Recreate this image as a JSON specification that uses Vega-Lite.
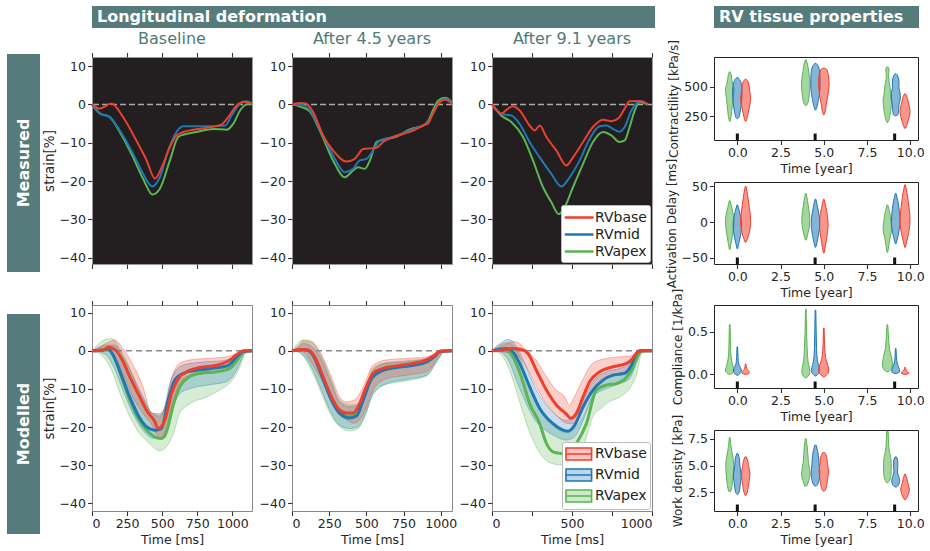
{
"$schema":"https://vega.github.io/schema/vega-lite/v6.json",
"background":"white",
"padding":{"left":7,"top":6,"right":2,"bottom":2},
"columns":9,
"align":"none",
"bounds":"flush",
"center":false,
"spacing":{"row":0,"column":0},
"resolve":{"scale":{"color":"independent","fill":"independent","stroke":"independent"},"legend":{"color":"independent","fill":"independent","stroke":"independent"}},
"config":{
 "view":{"stroke":null},
 "font":"DejaVu Sans",
 "axis":{"labelFont":"DejaVu Sans","titleFont":"DejaVu Sans","labelFontSize":12.5,"titleFontSize":12.5,"labelColor":"#262626","titleColor":"#262626","tickColor":"#333333","tickSize":4.5,"tickWidth":1.1,"domain":false,"grid":false,"titleFontWeight":"normal","labelPadding":2,"titlePadding":3},
 "title":{"font":"DejaVu Sans","fontSize":16,"fontWeight":"normal","color":"#4f7a7a"},
 "legend":{"labelFont":"DejaVu Sans","labelFontSize":14,"labelColor":"#222222","titleFont":"DejaVu Sans"}
},
"datasets":{
"meas":[
{"p":"M1","r":"RVapex","t":0,"v":0},{"p":"M1","r":"RVapex","t":55,"v":-2.3},{"p":"M1","r":"RVapex","t":126,"v":-3.3},{"p":"M1","r":"RVapex","t":198,"v":-7.2},{"p":"M1","r":"RVapex","t":293,"v":-13.8},{"p":"M1","r":"RVapex","t":364,"v":-19.4},{"p":"M1","r":"RVapex","t":431,"v":-23.5},{"p":"M1","r":"RVapex","t":483,"v":-22},{"p":"M1","r":"RVapex","t":555,"v":-14.6},{"p":"M1","r":"RVapex","t":614,"v":-8.5},{"p":"M1","r":"RVapex","t":650,"v":-7.9},{"p":"M1","r":"RVapex","t":745,"v":-7.2},{"p":"M1","r":"RVapex","t":864,"v":-6.4},{"p":"M1","r":"RVapex","t":960,"v":-6.6},{"p":"M1","r":"RVapex","t":1007,"v":-5},{"p":"M1","r":"RVapex","t":1055,"v":-1.6},{"p":"M1","r":"RVapex","t":1102,"v":0},{"p":"M1","r":"RVapex","t":1138,"v":0.2},
{"p":"M1","r":"RVmid","t":0,"v":0},{"p":"M1","r":"RVmid","t":55,"v":-2.4},{"p":"M1","r":"RVmid","t":126,"v":-3.3},{"p":"M1","r":"RVmid","t":198,"v":-6.8},{"p":"M1","r":"RVmid","t":293,"v":-12.9},{"p":"M1","r":"RVmid","t":364,"v":-18.1},{"p":"M1","r":"RVmid","t":431,"v":-21.4},{"p":"M1","r":"RVmid","t":483,"v":-19},{"p":"M1","r":"RVmid","t":543,"v":-12},{"p":"M1","r":"RVmid","t":602,"v":-7.2},{"p":"M1","r":"RVmid","t":650,"v":-5.7},{"p":"M1","r":"RVmid","t":745,"v":-5.7},{"p":"M1","r":"RVmid","t":864,"v":-5.7},{"p":"M1","r":"RVmid","t":948,"v":-5.5},{"p":"M1","r":"RVmid","t":995,"v":-2.9},{"p":"M1","r":"RVmid","t":1055,"v":0.2},{"p":"M1","r":"RVmid","t":1102,"v":0.8},{"p":"M1","r":"RVmid","t":1138,"v":0.3},
{"p":"M1","r":"RVbase","t":0,"v":0},{"p":"M1","r":"RVbase","t":55,"v":-1.1},{"p":"M1","r":"RVbase","t":138,"v":0.2},{"p":"M1","r":"RVbase","t":221,"v":-3.3},{"p":"M1","r":"RVbase","t":317,"v":-9.5},{"p":"M1","r":"RVbase","t":388,"v":-14.5},{"p":"M1","r":"RVbase","t":448,"v":-19.3},{"p":"M1","r":"RVbase","t":507,"v":-15.5},{"p":"M1","r":"RVbase","t":555,"v":-11.1},{"p":"M1","r":"RVbase","t":602,"v":-8.1},{"p":"M1","r":"RVbase","t":650,"v":-7.2},{"p":"M1","r":"RVbase","t":721,"v":-6.6},{"p":"M1","r":"RVbase","t":817,"v":-6.1},{"p":"M1","r":"RVbase","t":924,"v":-5.2},{"p":"M1","r":"RVbase","t":971,"v":-3.3},{"p":"M1","r":"RVbase","t":1031,"v":-0.3},{"p":"M1","r":"RVbase","t":1079,"v":0.6},{"p":"M1","r":"RVbase","t":1126,"v":0.4},{"p":"M1","r":"RVbase","t":1140,"v":0},
{"p":"M2","r":"RVapex","t":0,"v":0},{"p":"M2","r":"RVapex","t":63,"v":-0.7},{"p":"M2","r":"RVapex","t":119,"v":-1.8},{"p":"M2","r":"RVapex","t":187,"v":-6.8},{"p":"M2","r":"RVapex","t":276,"v":-14.6},{"p":"M2","r":"RVapex","t":355,"v":-19},{"p":"M2","r":"RVapex","t":411,"v":-17.2},{"p":"M2","r":"RVapex","t":445,"v":-16.4},{"p":"M2","r":"RVapex","t":490,"v":-16.8},{"p":"M2","r":"RVapex","t":524,"v":-14.6},{"p":"M2","r":"RVapex","t":569,"v":-9.8},{"p":"M2","r":"RVapex","t":613,"v":-9.2},{"p":"M2","r":"RVapex","t":703,"v":-8.4},{"p":"M2","r":"RVapex","t":793,"v":-6.5},{"p":"M2","r":"RVapex","t":883,"v":-5.5},{"p":"M2","r":"RVapex","t":917,"v":-4.2},{"p":"M2","r":"RVapex","t":950,"v":-1.4},{"p":"M2","r":"RVapex","t":984,"v":1},{"p":"M2","r":"RVapex","t":1029,"v":1.7},{"p":"M2","r":"RVapex","t":1063,"v":1},{"p":"M2","r":"RVapex","t":1076,"v":0.3},
{"p":"M2","r":"RVmid","t":0,"v":0},{"p":"M2","r":"RVmid","t":63,"v":-0.1},{"p":"M2","r":"RVmid","t":119,"v":-1.4},{"p":"M2","r":"RVmid","t":187,"v":-6.4},{"p":"M2","r":"RVmid","t":276,"v":-13.3},{"p":"M2","r":"RVmid","t":355,"v":-17.7},{"p":"M2","r":"RVmid","t":411,"v":-16.8},{"p":"M2","r":"RVmid","t":456,"v":-14.6},{"p":"M2","r":"RVmid","t":501,"v":-14.2},{"p":"M2","r":"RVmid","t":546,"v":-12},{"p":"M2","r":"RVmid","t":591,"v":-9.4},{"p":"M2","r":"RVmid","t":658,"v":-8.7},{"p":"M2","r":"RVmid","t":748,"v":-7.5},{"p":"M2","r":"RVmid","t":838,"v":-6.1},{"p":"M2","r":"RVmid","t":906,"v":-4.9},{"p":"M2","r":"RVmid","t":950,"v":-2.4},{"p":"M2","r":"RVmid","t":995,"v":0.8},{"p":"M2","r":"RVmid","t":1029,"v":1.4},{"p":"M2","r":"RVmid","t":1063,"v":0.9},{"p":"M2","r":"RVmid","t":1076,"v":0.2},
{"p":"M2","r":"RVbase","t":0,"v":0},{"p":"M2","r":"RVbase","t":63,"v":0.35},{"p":"M2","r":"RVbase","t":97,"v":0.2},{"p":"M2","r":"RVbase","t":142,"v":-2},{"p":"M2","r":"RVbase","t":209,"v":-8.1},{"p":"M2","r":"RVbase","t":276,"v":-12},{"p":"M2","r":"RVbase","t":366,"v":-14.9},{"p":"M2","r":"RVbase","t":422,"v":-14.2},{"p":"M2","r":"RVbase","t":479,"v":-11.6},{"p":"M2","r":"RVbase","t":546,"v":-11.4},{"p":"M2","r":"RVbase","t":568,"v":-11.3},{"p":"M2","r":"RVbase","t":613,"v":-9.8},{"p":"M2","r":"RVbase","t":681,"v":-8.5},{"p":"M2","r":"RVbase","t":748,"v":-7.7},{"p":"M2","r":"RVbase","t":816,"v":-6.8},{"p":"M2","r":"RVbase","t":883,"v":-5.5},{"p":"M2","r":"RVbase","t":917,"v":-4.9},{"p":"M2","r":"RVbase","t":950,"v":-2},{"p":"M2","r":"RVbase","t":995,"v":0.6},{"p":"M2","r":"RVbase","t":1029,"v":1.2},{"p":"M2","r":"RVbase","t":1063,"v":0.6},{"p":"M2","r":"RVbase","t":1076,"v":0},
{"p":"M3","r":"RVapex","t":0,"v":0},{"p":"M3","r":"RVapex","t":58,"v":-2.9},{"p":"M3","r":"RVapex","t":121,"v":-4.6},{"p":"M3","r":"RVapex","t":194,"v":-8.5},{"p":"M3","r":"RVapex","t":256,"v":-14.6},{"p":"M3","r":"RVapex","t":319,"v":-21.6},{"p":"M3","r":"RVapex","t":371,"v":-25.5},{"p":"M3","r":"RVapex","t":417,"v":-28.6},{"p":"M3","r":"RVapex","t":454,"v":-26.8},{"p":"M3","r":"RVapex","t":506,"v":-21.6},{"p":"M3","r":"RVapex","t":569,"v":-15.5},{"p":"M3","r":"RVapex","t":631,"v":-9.8},{"p":"M3","r":"RVapex","t":694,"v":-7.2},{"p":"M3","r":"RVapex","t":746,"v":-8.1},{"p":"M3","r":"RVapex","t":798,"v":-9.8},{"p":"M3","r":"RVapex","t":829,"v":-9.4},{"p":"M3","r":"RVapex","t":860,"v":-5.9},{"p":"M3","r":"RVapex","t":892,"v":-1.6},{"p":"M3","r":"RVapex","t":923,"v":0.6},{"p":"M3","r":"RVapex","t":968,"v":0},
{"p":"M3","r":"RVmid","t":0,"v":0},{"p":"M3","r":"RVmid","t":58,"v":-2.4},{"p":"M3","r":"RVmid","t":90,"v":-2.7},{"p":"M3","r":"RVmid","t":121,"v":-2.9},{"p":"M3","r":"RVmid","t":173,"v":-5.1},{"p":"M3","r":"RVmid","t":235,"v":-9.8},{"p":"M3","r":"RVmid","t":298,"v":-13.8},{"p":"M3","r":"RVmid","t":371,"v":-18.1},{"p":"M3","r":"RVmid","t":433,"v":-21.4},{"p":"M3","r":"RVmid","t":485,"v":-19},{"p":"M3","r":"RVmid","t":548,"v":-14.6},{"p":"M3","r":"RVmid","t":610,"v":-9},{"p":"M3","r":"RVmid","t":673,"v":-5.7},{"p":"M3","r":"RVmid","t":715,"v":-5.5},{"p":"M3","r":"RVmid","t":756,"v":-6.4},{"p":"M3","r":"RVmid","t":798,"v":-7.1},{"p":"M3","r":"RVmid","t":829,"v":-5.9},{"p":"M3","r":"RVmid","t":871,"v":-1.6},{"p":"M3","r":"RVmid","t":902,"v":0.3},{"p":"M3","r":"RVmid","t":933,"v":0.9},{"p":"M3","r":"RVmid","t":970,"v":0},
{"p":"M3","r":"RVbase","t":0,"v":0},{"p":"M3","r":"RVbase","t":58,"v":-2.4},{"p":"M3","r":"RVbase","t":100,"v":-1.1},{"p":"M3","r":"RVbase","t":131,"v":-0.5},{"p":"M3","r":"RVbase","t":173,"v":-1.6},{"p":"M3","r":"RVbase","t":235,"v":-5.5},{"p":"M3","r":"RVbase","t":267,"v":-6.8},{"p":"M3","r":"RVbase","t":298,"v":-5.5},{"p":"M3","r":"RVbase","t":340,"v":-8.5},{"p":"M3","r":"RVbase","t":402,"v":-12},{"p":"M3","r":"RVbase","t":465,"v":-15.9},{"p":"M3","r":"RVbase","t":506,"v":-13.8},{"p":"M3","r":"RVbase","t":569,"v":-9.8},{"p":"M3","r":"RVbase","t":631,"v":-5.9},{"p":"M3","r":"RVbase","t":694,"v":-4},{"p":"M3","r":"RVbase","t":746,"v":-4.4},{"p":"M3","r":"RVbase","t":788,"v":-3.7},{"p":"M3","r":"RVbase","t":829,"v":-1.1},{"p":"M3","r":"RVbase","t":860,"v":0.8},{"p":"M3","r":"RVbase","t":923,"v":0.9},{"p":"M3","r":"RVbase","t":975,"v":0}
],
"mod":[
{"p":"S1","r":"RVapex","t":0,"v":0},{"p":"S1","r":"RVapex","t":79,"v":0.2},{"p":"S1","r":"RVapex","t":114,"v":0.35},{"p":"S1","r":"RVapex","t":162,"v":-2},{"p":"S1","r":"RVapex","t":210,"v":-6.8},{"p":"S1","r":"RVapex","t":269,"v":-12.9},{"p":"S1","r":"RVapex","t":329,"v":-17.7},{"p":"S1","r":"RVapex","t":388,"v":-20.8},{"p":"S1","r":"RVapex","t":448,"v":-22.6},{"p":"S1","r":"RVapex","t":495,"v":-23},{"p":"S1","r":"RVapex","t":531,"v":-21.2},{"p":"S1","r":"RVapex","t":579,"v":-14.2},{"p":"S1","r":"RVapex","t":626,"v":-9.4},{"p":"S1","r":"RVapex","t":686,"v":-7},{"p":"S1","r":"RVapex","t":769,"v":-5.9},{"p":"S1","r":"RVapex","t":888,"v":-5.5},{"p":"S1","r":"RVapex","t":983,"v":-4.6},{"p":"S1","r":"RVapex","t":1043,"v":-2},{"p":"S1","r":"RVapex","t":1083,"v":-0.3},{"p":"S1","r":"RVapex","t":1140,"v":0},
{"p":"S1","r":"RVmid","t":0,"v":0},{"p":"S1","r":"RVmid","t":79,"v":0.2},{"p":"S1","r":"RVmid","t":114,"v":0.6},{"p":"S1","r":"RVmid","t":150,"v":-1.1},{"p":"S1","r":"RVmid","t":210,"v":-6.4},{"p":"S1","r":"RVmid","t":269,"v":-12.1},{"p":"S1","r":"RVmid","t":329,"v":-16.9},{"p":"S1","r":"RVmid","t":388,"v":-19.9},{"p":"S1","r":"RVmid","t":448,"v":-20.8},{"p":"S1","r":"RVmid","t":495,"v":-20.4},{"p":"S1","r":"RVmid","t":543,"v":-12.9},{"p":"S1","r":"RVmid","t":590,"v":-7.7},{"p":"S1","r":"RVmid","t":650,"v":-5.9},{"p":"S1","r":"RVmid","t":745,"v":-5.1},{"p":"S1","r":"RVmid","t":864,"v":-4.6},{"p":"S1","r":"RVmid","t":971,"v":-3.8},{"p":"S1","r":"RVmid","t":1031,"v":-1.6},{"p":"S1","r":"RVmid","t":1079,"v":-0.1},{"p":"S1","r":"RVmid","t":1140,"v":0},
{"p":"S1","r":"RVbase","t":0,"v":0},{"p":"S1","r":"RVbase","t":79,"v":0.2},{"p":"S1","r":"RVbase","t":114,"v":0.9},{"p":"S1","r":"RVbase","t":162,"v":0.35},{"p":"S1","r":"RVbase","t":210,"v":-2},{"p":"S1","r":"RVbase","t":269,"v":-6.8},{"p":"S1","r":"RVbase","t":340,"v":-12.1},{"p":"S1","r":"RVbase","t":388,"v":-15.6},{"p":"S1","r":"RVbase","t":448,"v":-18.6},{"p":"S1","r":"RVbase","t":471,"v":-20.4},{"p":"S1","r":"RVbase","t":519,"v":-18.2},{"p":"S1","r":"RVbase","t":567,"v":-11.2},{"p":"S1","r":"RVbase","t":614,"v":-7.3},{"p":"S1","r":"RVbase","t":674,"v":-5.5},{"p":"S1","r":"RVbase","t":769,"v":-4.4},{"p":"S1","r":"RVbase","t":888,"v":-3.8},{"p":"S1","r":"RVbase","t":983,"v":-2.4},{"p":"S1","r":"RVbase","t":1043,"v":-0.7},{"p":"S1","r":"RVbase","t":1079,"v":0},{"p":"S1","r":"RVbase","t":1140,"v":0},
{"p":"S2","r":"RVapex","t":0,"v":0},{"p":"S2","r":"RVapex","t":74,"v":0.3},{"p":"S2","r":"RVapex","t":108,"v":0.1},{"p":"S2","r":"RVapex","t":153,"v":-1.8},{"p":"S2","r":"RVapex","t":209,"v":-7.3},{"p":"S2","r":"RVapex","t":265,"v":-12.5},{"p":"S2","r":"RVapex","t":321,"v":-16},{"p":"S2","r":"RVapex","t":389,"v":-17.1},{"p":"S2","r":"RVapex","t":434,"v":-16.6},{"p":"S2","r":"RVapex","t":479,"v":-12.5},{"p":"S2","r":"RVapex","t":535,"v":-7},{"p":"S2","r":"RVapex","t":613,"v":-4.9},{"p":"S2","r":"RVapex","t":703,"v":-4.2},{"p":"S2","r":"RVapex","t":816,"v":-3.5},{"p":"S2","r":"RVapex","t":906,"v":-2.6},{"p":"S2","r":"RVapex","t":962,"v":-1.2},{"p":"S2","r":"RVapex","t":995,"v":-0.1},{"p":"S2","r":"RVapex","t":1076,"v":0},
{"p":"S2","r":"RVmid","t":0,"v":0},{"p":"S2","r":"RVmid","t":74,"v":0.3},{"p":"S2","r":"RVmid","t":108,"v":0.1},{"p":"S2","r":"RVmid","t":153,"v":-2},{"p":"S2","r":"RVmid","t":209,"v":-7.5},{"p":"S2","r":"RVmid","t":265,"v":-12.9},{"p":"S2","r":"RVmid","t":321,"v":-16.4},{"p":"S2","r":"RVmid","t":389,"v":-17.6},{"p":"S2","r":"RVmid","t":434,"v":-17.1},{"p":"S2","r":"RVmid","t":479,"v":-12.9},{"p":"S2","r":"RVmid","t":535,"v":-7.3},{"p":"S2","r":"RVmid","t":613,"v":-5.1},{"p":"S2","r":"RVmid","t":703,"v":-4.4},{"p":"S2","r":"RVmid","t":816,"v":-3.8},{"p":"S2","r":"RVmid","t":906,"v":-2.9},{"p":"S2","r":"RVmid","t":962,"v":-1.4},{"p":"S2","r":"RVmid","t":995,"v":-0.2},{"p":"S2","r":"RVmid","t":1076,"v":0},
{"p":"S2","r":"RVbase","t":0,"v":0},{"p":"S2","r":"RVbase","t":74,"v":0.35},{"p":"S2","r":"RVbase","t":108,"v":0.2},{"p":"S2","r":"RVbase","t":153,"v":-1.6},{"p":"S2","r":"RVbase","t":209,"v":-6.8},{"p":"S2","r":"RVbase","t":265,"v":-12.1},{"p":"S2","r":"RVbase","t":321,"v":-15.6},{"p":"S2","r":"RVbase","t":366,"v":-16.3},{"p":"S2","r":"RVbase","t":411,"v":-16.3},{"p":"S2","r":"RVbase","t":445,"v":-14.7},{"p":"S2","r":"RVbase","t":490,"v":-10.3},{"p":"S2","r":"RVbase","t":546,"v":-5.9},{"p":"S2","r":"RVbase","t":613,"v":-4.6},{"p":"S2","r":"RVbase","t":703,"v":-4},{"p":"S2","r":"RVbase","t":816,"v":-3.3},{"p":"S2","r":"RVbase","t":906,"v":-2.4},{"p":"S2","r":"RVbase","t":962,"v":-1.1},{"p":"S2","r":"RVbase","t":995,"v":-0.1},{"p":"S2","r":"RVbase","t":1076,"v":0},
{"p":"S3","r":"RVapex","t":0,"v":0},{"p":"S3","r":"RVapex","t":79,"v":0.2},{"p":"S3","r":"RVapex","t":131,"v":-1.6},{"p":"S3","r":"RVapex","t":183,"v":-6.8},{"p":"S3","r":"RVapex","t":235,"v":-13.8},{"p":"S3","r":"RVapex","t":298,"v":-19.1},{"p":"S3","r":"RVapex","t":340,"v":-24.3},{"p":"S3","r":"RVapex","t":381,"v":-26.5},{"p":"S3","r":"RVapex","t":433,"v":-26.9},{"p":"S3","r":"RVapex","t":485,"v":-26.5},{"p":"S3","r":"RVapex","t":527,"v":-24.3},{"p":"S3","r":"RVapex","t":590,"v":-19.1},{"p":"S3","r":"RVapex","t":652,"v":-10.3},{"p":"S3","r":"RVapex","t":715,"v":-9},{"p":"S3","r":"RVapex","t":777,"v":-8.6},{"p":"S3","r":"RVapex","t":840,"v":-7},{"p":"S3","r":"RVapex","t":881,"v":-4.4},{"p":"S3","r":"RVapex","t":913,"v":-1.1},{"p":"S3","r":"RVapex","t":933,"v":0},{"p":"S3","r":"RVapex","t":1000,"v":0},
{"p":"S3","r":"RVmid","t":0,"v":0},{"p":"S3","r":"RVmid","t":90,"v":0.6},{"p":"S3","r":"RVmid","t":131,"v":-0.3},{"p":"S3","r":"RVmid","t":183,"v":-4.2},{"p":"S3","r":"RVmid","t":235,"v":-9.4},{"p":"S3","r":"RVmid","t":298,"v":-15.1},{"p":"S3","r":"RVmid","t":381,"v":-19.1},{"p":"S3","r":"RVmid","t":444,"v":-20.8},{"p":"S3","r":"RVmid","t":475,"v":-21.1},{"p":"S3","r":"RVmid","t":517,"v":-19.5},{"p":"S3","r":"RVmid","t":569,"v":-14.7},{"p":"S3","r":"RVmid","t":631,"v":-10.3},{"p":"S3","r":"RVmid","t":694,"v":-7.7},{"p":"S3","r":"RVmid","t":756,"v":-6.4},{"p":"S3","r":"RVmid","t":829,"v":-5.9},{"p":"S3","r":"RVmid","t":871,"v":-3.8},{"p":"S3","r":"RVmid","t":902,"v":-0.7},{"p":"S3","r":"RVmid","t":925,"v":0},{"p":"S3","r":"RVmid","t":1000,"v":0},
{"p":"S3","r":"RVbase","t":0,"v":0},{"p":"S3","r":"RVbase","t":69,"v":0.2},{"p":"S3","r":"RVbase","t":131,"v":0.6},{"p":"S3","r":"RVbase","t":183,"v":0.35},{"p":"S3","r":"RVbase","t":225,"v":-0.7},{"p":"S3","r":"RVbase","t":277,"v":-5.1},{"p":"S3","r":"RVbase","t":340,"v":-10.3},{"p":"S3","r":"RVbase","t":402,"v":-14.2},{"p":"S3","r":"RVbase","t":465,"v":-16.6},{"p":"S3","r":"RVbase","t":492,"v":-17.7},{"p":"S3","r":"RVbase","t":527,"v":-16.4},{"p":"S3","r":"RVbase","t":569,"v":-12.1},{"p":"S3","r":"RVbase","t":610,"v":-8.1},{"p":"S3","r":"RVbase","t":673,"v":-5.5},{"p":"S3","r":"RVbase","t":756,"v":-4.2},{"p":"S3","r":"RVbase","t":840,"v":-3.3},{"p":"S3","r":"RVbase","t":871,"v":-2.4},{"p":"S3","r":"RVbase","t":902,"v":-0.7},{"p":"S3","r":"RVbase","t":923,"v":0},{"p":"S3","r":"RVbase","t":1000,"v":0}
],
"band":[
{"p":"S1","r":"RVapex","t":0,"lo":0,"hi":0},{"p":"S1","r":"RVapex","t":40,"lo":-0.5,"hi":1.5},{"p":"S1","r":"RVapex","t":80,"lo":-1.6,"hi":2.8},{"p":"S1","r":"RVapex","t":140,"lo":-5.1,"hi":3.2},{"p":"S1","r":"RVapex","t":200,"lo":-11.2,"hi":0.5},{"p":"S1","r":"RVapex","t":270,"lo":-17.3,"hi":-4.6},{"p":"S1","r":"RVapex","t":340,"lo":-21.7,"hi":-10.8},{"p":"S1","r":"RVapex","t":410,"lo":-24.3,"hi":-15.6},{"p":"S1","r":"RVapex","t":480,"lo":-26.2,"hi":-17.3},{"p":"S1","r":"RVapex","t":530,"lo":-25.2,"hi":-14.2},{"p":"S1","r":"RVapex","t":580,"lo":-21.7,"hi":-9.4},{"p":"S1","r":"RVapex","t":625,"lo":-16.4,"hi":-7.6},{"p":"S1","r":"RVapex","t":700,"lo":-13.8,"hi":-6.5},{"p":"S1","r":"RVapex","t":820,"lo":-12.1,"hi":-5.8},{"p":"S1","r":"RVapex","t":910,"lo":-10.3,"hi":-5.3},{"p":"S1","r":"RVapex","t":990,"lo":-8.1,"hi":-4},{"p":"S1","r":"RVapex","t":1050,"lo":-4.6,"hi":-1.3},{"p":"S1","r":"RVapex","t":1090,"lo":-0.7,"hi":0},{"p":"S1","r":"RVapex","t":1140,"lo":0,"hi":0},
{"p":"S1","r":"RVmid","t":0,"lo":0,"hi":0},{"p":"S1","r":"RVmid","t":50,"lo":-0.3,"hi":0.8},{"p":"S1","r":"RVmid","t":100,"lo":-1.1,"hi":1.5},{"p":"S1","r":"RVmid","t":160,"lo":-4.6,"hi":1.5},{"p":"S1","r":"RVmid","t":220,"lo":-10.3,"hi":-1.6},{"p":"S1","r":"RVmid","t":290,"lo":-16.3,"hi":-6.6},{"p":"S1","r":"RVmid","t":360,"lo":-20.7,"hi":-11.8},{"p":"S1","r":"RVmid","t":430,"lo":-22.9,"hi":-16.3},{"p":"S1","r":"RVmid","t":480,"lo":-23.1,"hi":-16.5},{"p":"S1","r":"RVmid","t":510,"lo":-22.8,"hi":-15.5},{"p":"S1","r":"RVmid","t":555,"lo":-17.3,"hi":-8.6},{"p":"S1","r":"RVmid","t":625,"lo":-11.2,"hi":-4.2},{"p":"S1","r":"RVmid","t":700,"lo":-9.9,"hi":-3.3},{"p":"S1","r":"RVmid","t":820,"lo":-9,"hi":-2.9},{"p":"S1","r":"RVmid","t":960,"lo":-8.1,"hi":-2.4},{"p":"S1","r":"RVmid","t":1030,"lo":-5.1,"hi":-1.1},{"p":"S1","r":"RVmid","t":1090,"lo":-0.7,"hi":0},{"p":"S1","r":"RVmid","t":1140,"lo":0,"hi":0},
{"p":"S1","r":"RVbase","t":0,"lo":0,"hi":0},{"p":"S1","r":"RVbase","t":100,"lo":0,"hi":1.9},{"p":"S1","r":"RVbase","t":160,"lo":-1.6,"hi":2.8},{"p":"S1","r":"RVbase","t":220,"lo":-5.9,"hi":0.6},{"p":"S1","r":"RVbase","t":290,"lo":-12,"hi":-3.6},{"p":"S1","r":"RVbase","t":360,"lo":-16.3,"hi":-9.1},{"p":"S1","r":"RVbase","t":420,"lo":-19,"hi":-16.1},{"p":"S1","r":"RVbase","t":480,"lo":-22.7,"hi":-16.9},{"p":"S1","r":"RVbase","t":520,"lo":-22.8,"hi":-14.6},{"p":"S1","r":"RVbase","t":570,"lo":-14.5,"hi":-6.8},{"p":"S1","r":"RVbase","t":625,"lo":-8.6,"hi":-3.3},{"p":"S1","r":"RVbase","t":700,"lo":-6.8,"hi":-2.4},{"p":"S1","r":"RVbase","t":820,"lo":-5.9,"hi":-2},{"p":"S1","r":"RVbase","t":960,"lo":-5.1,"hi":-1.6},{"p":"S1","r":"RVbase","t":1030,"lo":-2.9,"hi":-0.7},{"p":"S1","r":"RVbase","t":1090,"lo":-0.3,"hi":0},{"p":"S1","r":"RVbase","t":1140,"lo":0,"hi":0},
{"p":"S2","r":"RVapex","t":0,"lo":0,"hi":0},{"p":"S2","r":"RVapex","t":40,"lo":-0.3,"hi":2},{"p":"S2","r":"RVapex","t":75,"lo":-1.4,"hi":2.9},{"p":"S2","r":"RVapex","t":130,"lo":-5.1,"hi":2.6},{"p":"S2","r":"RVapex","t":190,"lo":-10.4,"hi":-0.8},{"p":"S2","r":"RVapex","t":255,"lo":-16.4,"hi":-6.8},{"p":"S2","r":"RVapex","t":320,"lo":-19.9,"hi":-12.9},{"p":"S2","r":"RVapex","t":390,"lo":-21,"hi":-14.2},{"p":"S2","r":"RVapex","t":445,"lo":-20.4,"hi":-13.8},{"p":"S2","r":"RVapex","t":490,"lo":-17.3,"hi":-10.3},{"p":"S2","r":"RVapex","t":545,"lo":-11.6,"hi":-4.6},{"p":"S2","r":"RVapex","t":635,"lo":-8.8,"hi":-3.1},{"p":"S2","r":"RVapex","t":770,"lo":-7.9,"hi":-2.6},{"p":"S2","r":"RVapex","t":905,"lo":-6.6,"hi":-2},{"p":"S2","r":"RVapex","t":985,"lo":-2.3,"hi":-0.3},{"p":"S2","r":"RVapex","t":1030,"lo":0,"hi":0},{"p":"S2","r":"RVapex","t":1076,"lo":0,"hi":0},
{"p":"S2","r":"RVmid","t":0,"lo":0,"hi":0},{"p":"S2","r":"RVmid","t":40,"lo":-0.2,"hi":0.8},{"p":"S2","r":"RVmid","t":75,"lo":-1.1,"hi":1.9},{"p":"S2","r":"RVmid","t":130,"lo":-4.2,"hi":1.2},{"p":"S2","r":"RVmid","t":190,"lo":-9.5,"hi":-1.7},{"p":"S2","r":"RVmid","t":255,"lo":-15.6,"hi":-7.7},{"p":"S2","r":"RVmid","t":320,"lo":-19.5,"hi":-13.4},{"p":"S2","r":"RVmid","t":390,"lo":-20.4,"hi":-14.7},{"p":"S2","r":"RVmid","t":445,"lo":-19.9,"hi":-14.2},{"p":"S2","r":"RVmid","t":490,"lo":-16.9,"hi":-10.8},{"p":"S2","r":"RVmid","t":545,"lo":-11.2,"hi":-5.1},{"p":"S2","r":"RVmid","t":635,"lo":-8.6,"hi":-3.3},{"p":"S2","r":"RVmid","t":770,"lo":-7.5,"hi":-2.9},{"p":"S2","r":"RVmid","t":905,"lo":-6.4,"hi":-2},{"p":"S2","r":"RVmid","t":985,"lo":-2,"hi":-0.5},{"p":"S2","r":"RVmid","t":1030,"lo":0,"hi":0},{"p":"S2","r":"RVmid","t":1076,"lo":0,"hi":0},
{"p":"S2","r":"RVbase","t":0,"lo":0,"hi":0},{"p":"S2","r":"RVbase","t":40,"lo":0,"hi":1.2},{"p":"S2","r":"RVbase","t":75,"lo":-0.3,"hi":2.6},{"p":"S2","r":"RVbase","t":125,"lo":-2.7,"hi":2.3},{"p":"S2","r":"RVbase","t":190,"lo":-7,"hi":-0.4},{"p":"S2","r":"RVbase","t":255,"lo":-12.1,"hi":-5.9},{"p":"S2","r":"RVbase","t":320,"lo":-16.9,"hi":-12.1},{"p":"S2","r":"RVbase","t":365,"lo":-18,"hi":-13.4},{"p":"S2","r":"RVbase","t":420,"lo":-19,"hi":-12.9},{"p":"S2","r":"RVbase","t":480,"lo":-16.6,"hi":-9.4},{"p":"S2","r":"RVbase","t":545,"lo":-10.3,"hi":-3.8},{"p":"S2","r":"RVbase","t":635,"lo":-7.3,"hi":-2.4},{"p":"S2","r":"RVbase","t":770,"lo":-6.4,"hi":-2},{"p":"S2","r":"RVbase","t":905,"lo":-5.5,"hi":-1.6},{"p":"S2","r":"RVbase","t":985,"lo":-1.6,"hi":-0.3},{"p":"S2","r":"RVbase","t":1030,"lo":0,"hi":0},{"p":"S2","r":"RVbase","t":1076,"lo":0,"hi":0},
{"p":"S3","r":"RVapex","t":0,"lo":0,"hi":0},{"p":"S3","r":"RVapex","t":50,"lo":-0.8,"hi":1},{"p":"S3","r":"RVapex","t":110,"lo":-5.1,"hi":1.9},{"p":"S3","r":"RVapex","t":165,"lo":-12.3,"hi":-0.8},{"p":"S3","r":"RVapex","t":215,"lo":-19,"hi":-6.8},{"p":"S3","r":"RVapex","t":280,"lo":-25.5,"hi":-13},{"p":"S3","r":"RVapex","t":340,"lo":-28.8,"hi":-17.3},{"p":"S3","r":"RVapex","t":400,"lo":-29.8,"hi":-20.3},{"p":"S3","r":"RVapex","t":445,"lo":-30,"hi":-21.3},{"p":"S3","r":"RVapex","t":505,"lo":-28.7,"hi":-20.7},{"p":"S3","r":"RVapex","t":570,"lo":-25.2,"hi":-17.2},{"p":"S3","r":"RVapex","t":630,"lo":-17.3,"hi":-11.4},{"p":"S3","r":"RVapex","t":690,"lo":-14.8,"hi":-7.5},{"p":"S3","r":"RVapex","t":715,"lo":-13.8,"hi":-6.8},{"p":"S3","r":"RVapex","t":800,"lo":-12.1,"hi":-6.4},{"p":"S3","r":"RVapex","t":860,"lo":-9.9,"hi":-5.1},{"p":"S3","r":"RVapex","t":905,"lo":-5.9,"hi":-1.6},{"p":"S3","r":"RVapex","t":935,"lo":-0.7,"hi":0},{"p":"S3","r":"RVapex","t":1000,"lo":0,"hi":0},
{"p":"S3","r":"RVmid","t":0,"lo":0,"hi":0},{"p":"S3","r":"RVmid","t":50,"lo":-0.3,"hi":1.9},{"p":"S3","r":"RVmid","t":105,"lo":-2.7,"hi":3},{"p":"S3","r":"RVmid","t":155,"lo":-8,"hi":1},{"p":"S3","r":"RVmid","t":205,"lo":-13,"hi":-3.3},{"p":"S3","r":"RVmid","t":265,"lo":-17.9,"hi":-9.3},{"p":"S3","r":"RVmid","t":340,"lo":-21,"hi":-14.2},{"p":"S3","r":"RVmid","t":400,"lo":-22.5,"hi":-16.9},{"p":"S3","r":"RVmid","t":460,"lo":-23.4,"hi":-18.2},{"p":"S3","r":"RVmid","t":515,"lo":-22.6,"hi":-17.7},{"p":"S3","r":"RVmid","t":570,"lo":-18.2,"hi":-12.9},{"p":"S3","r":"RVmid","t":630,"lo":-12.1,"hi":-8.1},{"p":"S3","r":"RVmid","t":715,"lo":-9.9,"hi":-5.5},{"p":"S3","r":"RVmid","t":800,"lo":-8.6,"hi":-4.6},{"p":"S3","r":"RVmid","t":860,"lo":-7.3,"hi":-3.3},{"p":"S3","r":"RVmid","t":905,"lo":-2.9,"hi":-0.7},{"p":"S3","r":"RVmid","t":940,"lo":0,"hi":0},{"p":"S3","r":"RVmid","t":1000,"lo":0,"hi":0},
{"p":"S3","r":"RVbase","t":0,"lo":0,"hi":0},{"p":"S3","r":"RVbase","t":70,"lo":-0.3,"hi":1.9},{"p":"S3","r":"RVbase","t":140,"lo":-0.7,"hi":2.4},{"p":"S3","r":"RVbase","t":215,"lo":-4.2,"hi":0.2},{"p":"S3","r":"RVbase","t":275,"lo":-9.3,"hi":-2.4},{"p":"S3","r":"RVbase","t":340,"lo":-13.8,"hi":-6.8},{"p":"S3","r":"RVbase","t":400,"lo":-16.8,"hi":-10.2},{"p":"S3","r":"RVbase","t":455,"lo":-18.8,"hi":-12.1},{"p":"S3","r":"RVbase","t":485,"lo":-19.1,"hi":-14.4},{"p":"S3","r":"RVbase","t":505,"lo":-19.1,"hi":-12.9},{"p":"S3","r":"RVbase","t":570,"lo":-15.6,"hi":-7.3},{"p":"S3","r":"RVbase","t":630,"lo":-10.3,"hi":-3.3},{"p":"S3","r":"RVbase","t":715,"lo":-7.3,"hi":-2},{"p":"S3","r":"RVbase","t":800,"lo":-5.9,"hi":-1.6},{"p":"S3","r":"RVbase","t":860,"lo":-5.1,"hi":-1.4},{"p":"S3","r":"RVbase","t":915,"lo":-1.6,"hi":-0.3},{"p":"S3","r":"RVbase","t":950,"lo":0,"hi":0},{"p":"S3","r":"RVbase","t":1000,"lo":0,"hi":0}
],
"vio":[
{"p":"C","id":"C0g","r":"RVapex","v":625,"lo":-0.46,"hi":-0.42},{"p":"C","id":"C0g","r":"RVapex","v":600,"lo":-0.52,"hi":-0.36},{"p":"C","id":"C0g","r":"RVapex","v":560,"lo":-0.56,"hi":-0.32},{"p":"C","id":"C0g","r":"RVapex","v":520,"lo":-0.61,"hi":-0.27},{"p":"C","id":"C0g","r":"RVapex","v":480,"lo":-0.69,"hi":-0.19},{"p":"C","id":"C0g","r":"RVapex","v":440,"lo":-0.67,"hi":-0.21},{"p":"C","id":"C0g","r":"RVapex","v":400,"lo":-0.63,"hi":-0.25},{"p":"C","id":"C0g","r":"RVapex","v":350,"lo":-0.59,"hi":-0.29},{"p":"C","id":"C0g","r":"RVapex","v":300,"lo":-0.56,"hi":-0.32},{"p":"C","id":"C0g","r":"RVapex","v":250,"lo":-0.52,"hi":-0.36},{"p":"C","id":"C0g","r":"RVapex","v":210,"lo":-0.46,"hi":-0.42},
{"p":"C","id":"C0b","r":"RVmid","v":578,"lo":-0.02,"hi":0.02},{"p":"C","id":"C0b","r":"RVmid","v":560,"lo":-0.13,"hi":0.13},{"p":"C","id":"C0b","r":"RVmid","v":520,"lo":-0.23,"hi":0.23},{"p":"C","id":"C0b","r":"RVmid","v":480,"lo":-0.27,"hi":0.27},{"p":"C","id":"C0b","r":"RVmid","v":430,"lo":-0.27,"hi":0.27},{"p":"C","id":"C0b","r":"RVmid","v":380,"lo":-0.25,"hi":0.25},{"p":"C","id":"C0b","r":"RVmid","v":330,"lo":-0.21,"hi":0.21},{"p":"C","id":"C0b","r":"RVmid","v":280,"lo":-0.15,"hi":0.15},{"p":"C","id":"C0b","r":"RVmid","v":240,"lo":-0.08,"hi":0.08},{"p":"C","id":"C0b","r":"RVmid","v":232,"lo":-0.02,"hi":0.02},
{"p":"C","id":"C0r","r":"RVbase","v":563,"lo":0.46,"hi":0.5},{"p":"C","id":"C0r","r":"RVbase","v":545,"lo":0.35,"hi":0.61},{"p":"C","id":"C0r","r":"RVbase","v":500,"lo":0.27,"hi":0.69},{"p":"C","id":"C0r","r":"RVbase","v":450,"lo":0.23,"hi":0.73},{"p":"C","id":"C0r","r":"RVbase","v":400,"lo":0.19,"hi":0.77},{"p":"C","id":"C0r","r":"RVbase","v":370,"lo":0.21,"hi":0.75},{"p":"C","id":"C0r","r":"RVbase","v":320,"lo":0.27,"hi":0.69},{"p":"C","id":"C0r","r":"RVbase","v":270,"lo":0.35,"hi":0.61},{"p":"C","id":"C0r","r":"RVbase","v":225,"lo":0.42,"hi":0.54},{"p":"C","id":"C0r","r":"RVbase","v":210,"lo":0.46,"hi":0.5},
{"p":"C","id":"C1g","r":"RVapex","v":725,"lo":3.94,"hi":3.98},{"p":"C","id":"C1g","r":"RVapex","v":690,"lo":3.86,"hi":4.06},{"p":"C","id":"C1g","r":"RVapex","v":640,"lo":3.81,"hi":4.11},{"p":"C","id":"C1g","r":"RVapex","v":580,"lo":3.75,"hi":4.17},{"p":"C","id":"C1g","r":"RVapex","v":520,"lo":3.71,"hi":4.21},{"p":"C","id":"C1g","r":"RVapex","v":470,"lo":3.73,"hi":4.19},{"p":"C","id":"C1g","r":"RVapex","v":420,"lo":3.77,"hi":4.15},{"p":"C","id":"C1g","r":"RVapex","v":380,"lo":3.81,"hi":4.11},{"p":"C","id":"C1g","r":"RVapex","v":350,"lo":3.88,"hi":4.04},{"p":"C","id":"C1g","r":"RVapex","v":340,"lo":3.94,"hi":3.98},
{"p":"C","id":"C1b","r":"RVmid","v":695,"lo":4.48,"hi":4.56},{"p":"C","id":"C1b","r":"RVmid","v":670,"lo":4.35,"hi":4.69},{"p":"C","id":"C1b","r":"RVmid","v":620,"lo":4.27,"hi":4.77},{"p":"C","id":"C1b","r":"RVmid","v":560,"lo":4.25,"hi":4.79},{"p":"C","id":"C1b","r":"RVmid","v":500,"lo":4.25,"hi":4.79},{"p":"C","id":"C1b","r":"RVmid","v":440,"lo":4.29,"hi":4.75},{"p":"C","id":"C1b","r":"RVmid","v":390,"lo":4.35,"hi":4.69},{"p":"C","id":"C1b","r":"RVmid","v":340,"lo":4.42,"hi":4.62},{"p":"C","id":"C1b","r":"RVmid","v":305,"lo":4.5,"hi":4.54},
{"p":"C","id":"C1r","r":"RVbase","v":655,"lo":4.94,"hi":5.06},{"p":"C","id":"C1r","r":"RVbase","v":640,"lo":4.81,"hi":5.19},{"p":"C","id":"C1r","r":"RVbase","v":590,"lo":4.73,"hi":5.27},{"p":"C","id":"C1r","r":"RVbase","v":520,"lo":4.69,"hi":5.31},{"p":"C","id":"C1r","r":"RVbase","v":460,"lo":4.73,"hi":5.27},{"p":"C","id":"C1r","r":"RVbase","v":400,"lo":4.79,"hi":5.21},{"p":"C","id":"C1r","r":"RVbase","v":340,"lo":4.87,"hi":5.13},{"p":"C","id":"C1r","r":"RVbase","v":290,"lo":4.92,"hi":5.08},{"p":"C","id":"C1r","r":"RVbase","v":265,"lo":4.98,"hi":5.02},
{"p":"C","id":"C2g","r":"RVapex","v":665,"lo":8.64,"hi":8.72},{"p":"C","id":"C2g","r":"RVapex","v":640,"lo":8.58,"hi":8.78},{"p":"C","id":"C2g","r":"RVapex","v":600,"lo":8.62,"hi":8.74},{"p":"C","id":"C2g","r":"RVapex","v":560,"lo":8.6,"hi":8.76},{"p":"C","id":"C2g","r":"RVapex","v":500,"lo":8.53,"hi":8.83},{"p":"C","id":"C2g","r":"RVapex","v":440,"lo":8.49,"hi":8.87},{"p":"C","id":"C2g","r":"RVapex","v":380,"lo":8.43,"hi":8.93},{"p":"C","id":"C2g","r":"RVapex","v":320,"lo":8.47,"hi":8.89},{"p":"C","id":"C2g","r":"RVapex","v":260,"lo":8.53,"hi":8.83},{"p":"C","id":"C2g","r":"RVapex","v":220,"lo":8.6,"hi":8.76},{"p":"C","id":"C2g","r":"RVapex","v":200,"lo":8.66,"hi":8.7},
{"p":"C","id":"C2b","r":"RVmid","v":610,"lo":9.14,"hi":9.18},{"p":"C","id":"C2b","r":"RVmid","v":590,"lo":9.04,"hi":9.28},{"p":"C","id":"C2b","r":"RVmid","v":540,"lo":8.97,"hi":9.35},{"p":"C","id":"C2b","r":"RVmid","v":490,"lo":8.97,"hi":9.35},{"p":"C","id":"C2b","r":"RVmid","v":450,"lo":8.91,"hi":9.41},{"p":"C","id":"C2b","r":"RVmid","v":400,"lo":8.89,"hi":9.43},{"p":"C","id":"C2b","r":"RVmid","v":350,"lo":8.97,"hi":9.35},{"p":"C","id":"C2b","r":"RVmid","v":300,"lo":8.99,"hi":9.33},{"p":"C","id":"C2b","r":"RVmid","v":265,"lo":9.03,"hi":9.29},{"p":"C","id":"C2b","r":"RVmid","v":255,"lo":9.14,"hi":9.18},
{"p":"C","id":"C2r","r":"RVbase","v":440,"lo":9.68,"hi":9.72},{"p":"C","id":"C2r","r":"RVbase","v":420,"lo":9.6,"hi":9.8},{"p":"C","id":"C2r","r":"RVbase","v":380,"lo":9.53,"hi":9.87},{"p":"C","id":"C2r","r":"RVbase","v":330,"lo":9.45,"hi":9.95},{"p":"C","id":"C2r","r":"RVbase","v":290,"lo":9.41,"hi":9.99},{"p":"C","id":"C2r","r":"RVbase","v":250,"lo":9.45,"hi":9.95},{"p":"C","id":"C2r","r":"RVbase","v":210,"lo":9.53,"hi":9.87},{"p":"C","id":"C2r","r":"RVbase","v":175,"lo":9.6,"hi":9.8},{"p":"C","id":"C2r","r":"RVbase","v":150,"lo":9.68,"hi":9.72},
{"p":"A","id":"A0g","r":"RVapex","v":30,"lo":-0.46,"hi":-0.42},{"p":"A","id":"A0g","r":"RVapex","v":20,"lo":-0.56,"hi":-0.32},{"p":"A","id":"A0g","r":"RVapex","v":10,"lo":-0.65,"hi":-0.23},{"p":"A","id":"A0g","r":"RVapex","v":0,"lo":-0.69,"hi":-0.19},{"p":"A","id":"A0g","r":"RVapex","v":-10,"lo":-0.65,"hi":-0.23},{"p":"A","id":"A0g","r":"RVapex","v":-20,"lo":-0.59,"hi":-0.29},{"p":"A","id":"A0g","r":"RVapex","v":-30,"lo":-0.52,"hi":-0.36},{"p":"A","id":"A0g","r":"RVapex","v":-38,"lo":-0.46,"hi":-0.42},
{"p":"A","id":"A0b","r":"RVmid","v":24,"lo":-0.02,"hi":0.02},{"p":"A","id":"A0b","r":"RVmid","v":15,"lo":-0.12,"hi":0.12},{"p":"A","id":"A0b","r":"RVmid","v":5,"lo":-0.21,"hi":0.21},{"p":"A","id":"A0b","r":"RVmid","v":-5,"lo":-0.25,"hi":0.25},{"p":"A","id":"A0b","r":"RVmid","v":-15,"lo":-0.21,"hi":0.21},{"p":"A","id":"A0b","r":"RVmid","v":-25,"lo":-0.13,"hi":0.13},{"p":"A","id":"A0b","r":"RVmid","v":-32,"lo":-0.06,"hi":0.06},{"p":"A","id":"A0b","r":"RVmid","v":-37,"lo":-0.02,"hi":0.02},
{"p":"A","id":"A0r","r":"RVbase","v":50,"lo":0.46,"hi":0.5},{"p":"A","id":"A0r","r":"RVbase","v":40,"lo":0.38,"hi":0.58},{"p":"A","id":"A0r","r":"RVbase","v":25,"lo":0.29,"hi":0.67},{"p":"A","id":"A0r","r":"RVbase","v":10,"lo":0.21,"hi":0.75},{"p":"A","id":"A0r","r":"RVbase","v":0,"lo":0.19,"hi":0.77},{"p":"A","id":"A0r","r":"RVbase","v":-10,"lo":0.23,"hi":0.73},{"p":"A","id":"A0r","r":"RVbase","v":-20,"lo":0.33,"hi":0.63},{"p":"A","id":"A0r","r":"RVbase","v":-28,"lo":0.46,"hi":0.5},
{"p":"A","id":"A1g","r":"RVapex","v":40,"lo":3.94,"hi":3.98},{"p":"A","id":"A1g","r":"RVapex","v":30,"lo":3.86,"hi":4.06},{"p":"A","id":"A1g","r":"RVapex","v":15,"lo":3.77,"hi":4.15},{"p":"A","id":"A1g","r":"RVapex","v":5,"lo":3.73,"hi":4.19},{"p":"A","id":"A1g","r":"RVapex","v":-5,"lo":3.75,"hi":4.17},{"p":"A","id":"A1g","r":"RVapex","v":-15,"lo":3.83,"hi":4.09},{"p":"A","id":"A1g","r":"RVapex","v":-22,"lo":3.9,"hi":4.02},{"p":"A","id":"A1g","r":"RVapex","v":-25,"lo":3.94,"hi":3.98},
{"p":"A","id":"A1b","r":"RVmid","v":32,"lo":4.5,"hi":4.54},{"p":"A","id":"A1b","r":"RVmid","v":20,"lo":4.39,"hi":4.65},{"p":"A","id":"A1b","r":"RVmid","v":5,"lo":4.29,"hi":4.75},{"p":"A","id":"A1b","r":"RVmid","v":-5,"lo":4.27,"hi":4.77},{"p":"A","id":"A1b","r":"RVmid","v":-15,"lo":4.33,"hi":4.71},{"p":"A","id":"A1b","r":"RVmid","v":-25,"lo":4.4,"hi":4.64},{"p":"A","id":"A1b","r":"RVmid","v":-35,"lo":4.5,"hi":4.54},
{"p":"A","id":"A1r","r":"RVbase","v":32,"lo":4.98,"hi":5.02},{"p":"A","id":"A1r","r":"RVbase","v":20,"lo":4.87,"hi":5.13},{"p":"A","id":"A1r","r":"RVbase","v":5,"lo":4.77,"hi":5.23},{"p":"A","id":"A1r","r":"RVbase","v":-5,"lo":4.75,"hi":5.25},{"p":"A","id":"A1r","r":"RVbase","v":-15,"lo":4.79,"hi":5.21},{"p":"A","id":"A1r","r":"RVbase","v":-25,"lo":4.85,"hi":5.15},{"p":"A","id":"A1r","r":"RVbase","v":-35,"lo":4.92,"hi":5.08},{"p":"A","id":"A1r","r":"RVbase","v":-43,"lo":4.98,"hi":5.02},
{"p":"A","id":"A2g","r":"RVapex","v":24,"lo":8.66,"hi":8.7},{"p":"A","id":"A2g","r":"RVapex","v":15,"lo":8.56,"hi":8.8},{"p":"A","id":"A2g","r":"RVapex","v":0,"lo":8.47,"hi":8.89},{"p":"A","id":"A2g","r":"RVapex","v":-10,"lo":8.43,"hi":8.93},{"p":"A","id":"A2g","r":"RVapex","v":-20,"lo":8.51,"hi":8.85},{"p":"A","id":"A2g","r":"RVapex","v":-30,"lo":8.58,"hi":8.78},{"p":"A","id":"A2g","r":"RVapex","v":-42,"lo":8.66,"hi":8.7},
{"p":"A","id":"A2b","r":"RVmid","v":40,"lo":9.14,"hi":9.18},{"p":"A","id":"A2b","r":"RVmid","v":30,"lo":9.04,"hi":9.28},{"p":"A","id":"A2b","r":"RVmid","v":15,"lo":8.95,"hi":9.37},{"p":"A","id":"A2b","r":"RVmid","v":0,"lo":8.91,"hi":9.41},{"p":"A","id":"A2b","r":"RVmid","v":-10,"lo":8.95,"hi":9.37},{"p":"A","id":"A2b","r":"RVmid","v":-20,"lo":9.03,"hi":9.29},{"p":"A","id":"A2b","r":"RVmid","v":-30,"lo":9.14,"hi":9.18},
{"p":"A","id":"A2r","r":"RVbase","v":52,"lo":9.68,"hi":9.72},{"p":"A","id":"A2r","r":"RVbase","v":40,"lo":9.58,"hi":9.82},{"p":"A","id":"A2r","r":"RVbase","v":20,"lo":9.47,"hi":9.93},{"p":"A","id":"A2r","r":"RVbase","v":5,"lo":9.41,"hi":9.99},{"p":"A","id":"A2r","r":"RVbase","v":-5,"lo":9.43,"hi":9.97},{"p":"A","id":"A2r","r":"RVbase","v":-15,"lo":9.49,"hi":9.91},{"p":"A","id":"A2r","r":"RVbase","v":-25,"lo":9.58,"hi":9.82},{"p":"A","id":"A2r","r":"RVbase","v":-35,"lo":9.68,"hi":9.72},
{"p":"P","id":"P0g","r":"RVapex","v":0.58,"lo":-0.46,"hi":-0.42},{"p":"P","id":"P0g","r":"RVapex","v":0.4,"lo":-0.48,"hi":-0.4},{"p":"P","id":"P0g","r":"RVapex","v":0.25,"lo":-0.5,"hi":-0.38},{"p":"P","id":"P0g","r":"RVapex","v":0.15,"lo":-0.56,"hi":-0.32},{"p":"P","id":"P0g","r":"RVapex","v":0.08,"lo":-0.65,"hi":-0.23},{"p":"P","id":"P0g","r":"RVapex","v":0.05,"lo":-0.69,"hi":-0.19},{"p":"P","id":"P0g","r":"RVapex","v":0.02,"lo":-0.63,"hi":-0.25},{"p":"P","id":"P0g","r":"RVapex","v":0,"lo":-0.5,"hi":-0.38},
{"p":"P","id":"P0b","r":"RVmid","v":0.32,"lo":-0.02,"hi":0.02},{"p":"P","id":"P0b","r":"RVmid","v":0.2,"lo":-0.04,"hi":0.04},{"p":"P","id":"P0b","r":"RVmid","v":0.12,"lo":-0.08,"hi":0.08},{"p":"P","id":"P0b","r":"RVmid","v":0.08,"lo":-0.17,"hi":0.17},{"p":"P","id":"P0b","r":"RVmid","v":0.05,"lo":-0.23,"hi":0.23},{"p":"P","id":"P0b","r":"RVmid","v":0.02,"lo":-0.19,"hi":0.19},{"p":"P","id":"P0b","r":"RVmid","v":-0.01,"lo":-0.04,"hi":0.04},
{"p":"P","id":"P0r","r":"RVbase","v":0.12,"lo":0.46,"hi":0.5},{"p":"P","id":"P0r","r":"RVbase","v":0.07,"lo":0.42,"hi":0.54},{"p":"P","id":"P0r","r":"RVbase","v":0.04,"lo":0.33,"hi":0.63},{"p":"P","id":"P0r","r":"RVbase","v":0.025,"lo":0.25,"hi":0.71},{"p":"P","id":"P0r","r":"RVbase","v":0.01,"lo":0.29,"hi":0.67},{"p":"P","id":"P0r","r":"RVbase","v":0,"lo":0.44,"hi":0.52},
{"p":"P","id":"P1g","r":"RVapex","v":0.76,"lo":3.94,"hi":3.98},{"p":"P","id":"P1g","r":"RVapex","v":0.5,"lo":3.92,"hi":4},{"p":"P","id":"P1g","r":"RVapex","v":0.3,"lo":3.88,"hi":4.04},{"p":"P","id":"P1g","r":"RVapex","v":0.15,"lo":3.83,"hi":4.09},{"p":"P","id":"P1g","r":"RVapex","v":0.08,"lo":3.75,"hi":4.17},{"p":"P","id":"P1g","r":"RVapex","v":0.03,"lo":3.73,"hi":4.19},{"p":"P","id":"P1g","r":"RVapex","v":-0.02,"lo":3.81,"hi":4.11},{"p":"P","id":"P1g","r":"RVapex","v":-0.04,"lo":3.94,"hi":3.98},
{"p":"P","id":"P1b","r":"RVmid","v":0.75,"lo":4.5,"hi":4.54},{"p":"P","id":"P1b","r":"RVmid","v":0.5,"lo":4.48,"hi":4.56},{"p":"P","id":"P1b","r":"RVmid","v":0.3,"lo":4.46,"hi":4.58},{"p":"P","id":"P1b","r":"RVmid","v":0.15,"lo":4.4,"hi":4.64},{"p":"P","id":"P1b","r":"RVmid","v":0.08,"lo":4.31,"hi":4.73},{"p":"P","id":"P1b","r":"RVmid","v":0.03,"lo":4.29,"hi":4.75},{"p":"P","id":"P1b","r":"RVmid","v":0,"lo":4.39,"hi":4.65},{"p":"P","id":"P1b","r":"RVmid","v":-0.02,"lo":4.5,"hi":4.54},
{"p":"P","id":"P1r","r":"RVbase","v":0.54,"lo":4.98,"hi":5.02},{"p":"P","id":"P1r","r":"RVbase","v":0.35,"lo":4.96,"hi":5.04},{"p":"P","id":"P1r","r":"RVbase","v":0.2,"lo":4.9,"hi":5.1},{"p":"P","id":"P1r","r":"RVbase","v":0.12,"lo":4.79,"hi":5.21},{"p":"P","id":"P1r","r":"RVbase","v":0.06,"lo":4.71,"hi":5.29},{"p":"P","id":"P1r","r":"RVbase","v":0.02,"lo":4.73,"hi":5.27},{"p":"P","id":"P1r","r":"RVbase","v":-0.01,"lo":4.85,"hi":5.15},{"p":"P","id":"P1r","r":"RVbase","v":-0.03,"lo":4.98,"hi":5.02},
{"p":"P","id":"P2g","r":"RVapex","v":0.58,"lo":8.66,"hi":8.7},{"p":"P","id":"P2g","r":"RVapex","v":0.45,"lo":8.62,"hi":8.74},{"p":"P","id":"P2g","r":"RVapex","v":0.3,"lo":8.56,"hi":8.8},{"p":"P","id":"P2g","r":"RVapex","v":0.2,"lo":8.45,"hi":8.91},{"p":"P","id":"P2g","r":"RVapex","v":0.12,"lo":8.39,"hi":8.97},{"p":"P","id":"P2g","r":"RVapex","v":0.07,"lo":8.43,"hi":8.93},{"p":"P","id":"P2g","r":"RVapex","v":0.03,"lo":8.62,"hi":8.74},
{"p":"P","id":"P2b","r":"RVmid","v":0.3,"lo":9.14,"hi":9.18},{"p":"P","id":"P2b","r":"RVmid","v":0.2,"lo":9.12,"hi":9.2},{"p":"P","id":"P2b","r":"RVmid","v":0.12,"lo":9.06,"hi":9.26},{"p":"P","id":"P2b","r":"RVmid","v":0.07,"lo":8.97,"hi":9.35},{"p":"P","id":"P2b","r":"RVmid","v":0.03,"lo":8.93,"hi":9.39},{"p":"P","id":"P2b","r":"RVmid","v":0.01,"lo":9.1,"hi":9.22},
{"p":"P","id":"P2r","r":"RVbase","v":0.08,"lo":9.68,"hi":9.72},{"p":"P","id":"P2r","r":"RVbase","v":0.05,"lo":9.64,"hi":9.76},{"p":"P","id":"P2r","r":"RVbase","v":0.03,"lo":9.55,"hi":9.85},{"p":"P","id":"P2r","r":"RVbase","v":0.015,"lo":9.47,"hi":9.93},{"p":"P","id":"P2r","r":"RVbase","v":0,"lo":9.64,"hi":9.76},
{"p":"W","id":"W0g","r":"RVapex","v":7.6,"lo":-0.46,"hi":-0.42},{"p":"W","id":"W0g","r":"RVapex","v":7,"lo":-0.5,"hi":-0.38},{"p":"W","id":"W0g","r":"RVapex","v":6.3,"lo":-0.56,"hi":-0.32},{"p":"W","id":"W0g","r":"RVapex","v":5.7,"lo":-0.63,"hi":-0.25},{"p":"W","id":"W0g","r":"RVapex","v":5,"lo":-0.67,"hi":-0.21},{"p":"W","id":"W0g","r":"RVapex","v":4.3,"lo":-0.65,"hi":-0.23},{"p":"W","id":"W0g","r":"RVapex","v":3.6,"lo":-0.61,"hi":-0.27},{"p":"W","id":"W0g","r":"RVapex","v":3,"lo":-0.56,"hi":-0.32},{"p":"W","id":"W0g","r":"RVapex","v":2.6,"lo":-0.5,"hi":-0.38},
{"p":"W","id":"W0b","r":"RVmid","v":6.1,"lo":-0.04,"hi":0.04},{"p":"W","id":"W0b","r":"RVmid","v":5.6,"lo":-0.12,"hi":0.12},{"p":"W","id":"W0b","r":"RVmid","v":5,"lo":-0.15,"hi":0.15},{"p":"W","id":"W0b","r":"RVmid","v":4.5,"lo":-0.19,"hi":0.19},{"p":"W","id":"W0b","r":"RVmid","v":4,"lo":-0.23,"hi":0.23},{"p":"W","id":"W0b","r":"RVmid","v":3.5,"lo":-0.19,"hi":0.19},{"p":"W","id":"W0b","r":"RVmid","v":3,"lo":-0.15,"hi":0.15},{"p":"W","id":"W0b","r":"RVmid","v":2.5,"lo":-0.1,"hi":0.1},{"p":"W","id":"W0b","r":"RVmid","v":2.3,"lo":-0.02,"hi":0.02},
{"p":"W","id":"W0r","r":"RVbase","v":5.8,"lo":0.44,"hi":0.52},{"p":"W","id":"W0r","r":"RVbase","v":5.4,"lo":0.35,"hi":0.61},{"p":"W","id":"W0r","r":"RVbase","v":4.8,"lo":0.29,"hi":0.67},{"p":"W","id":"W0r","r":"RVbase","v":4.2,"lo":0.23,"hi":0.73},{"p":"W","id":"W0r","r":"RVbase","v":3.6,"lo":0.27,"hi":0.69},{"p":"W","id":"W0r","r":"RVbase","v":3,"lo":0.33,"hi":0.63},{"p":"W","id":"W0r","r":"RVbase","v":2.5,"lo":0.38,"hi":0.58},{"p":"W","id":"W0r","r":"RVbase","v":2.2,"lo":0.46,"hi":0.5},
{"p":"W","id":"W1g","r":"RVapex","v":7.5,"lo":3.94,"hi":3.98},{"p":"W","id":"W1g","r":"RVapex","v":6.8,"lo":3.88,"hi":4.04},{"p":"W","id":"W1g","r":"RVapex","v":6,"lo":3.84,"hi":4.08},{"p":"W","id":"W1g","r":"RVapex","v":5.3,"lo":3.81,"hi":4.11},{"p":"W","id":"W1g","r":"RVapex","v":4.7,"lo":3.75,"hi":4.17},{"p":"W","id":"W1g","r":"RVapex","v":4.2,"lo":3.71,"hi":4.21},{"p":"W","id":"W1g","r":"RVapex","v":3.6,"lo":3.79,"hi":4.13},{"p":"W","id":"W1g","r":"RVapex","v":3.1,"lo":3.9,"hi":4.02},
{"p":"W","id":"W1b","r":"RVmid","v":6.9,"lo":4.48,"hi":4.56},{"p":"W","id":"W1b","r":"RVmid","v":6.3,"lo":4.39,"hi":4.65},{"p":"W","id":"W1b","r":"RVmid","v":5.6,"lo":4.33,"hi":4.71},{"p":"W","id":"W1b","r":"RVmid","v":5,"lo":4.31,"hi":4.73},{"p":"W","id":"W1b","r":"RVmid","v":4.3,"lo":4.27,"hi":4.77},{"p":"W","id":"W1b","r":"RVmid","v":3.7,"lo":4.31,"hi":4.73},{"p":"W","id":"W1b","r":"RVmid","v":3.2,"lo":4.4,"hi":4.64},{"p":"W","id":"W1b","r":"RVmid","v":3.1,"lo":4.48,"hi":4.56},
{"p":"W","id":"W1r","r":"RVbase","v":6.2,"lo":4.94,"hi":5.06},{"p":"W","id":"W1r","r":"RVbase","v":5.8,"lo":4.83,"hi":5.17},{"p":"W","id":"W1r","r":"RVbase","v":5.2,"lo":4.79,"hi":5.21},{"p":"W","id":"W1r","r":"RVbase","v":4.5,"lo":4.73,"hi":5.27},{"p":"W","id":"W1r","r":"RVbase","v":3.8,"lo":4.77,"hi":5.23},{"p":"W","id":"W1r","r":"RVbase","v":3.2,"lo":4.83,"hi":5.17},{"p":"W","id":"W1r","r":"RVbase","v":2.7,"lo":4.92,"hi":5.08},{"p":"W","id":"W1r","r":"RVbase","v":2.6,"lo":4.98,"hi":5.02},
{"p":"W","id":"W2g","r":"RVapex","v":8.2,"lo":8.64,"hi":8.72},{"p":"W","id":"W2g","r":"RVapex","v":7.5,"lo":8.62,"hi":8.74},{"p":"W","id":"W2g","r":"RVapex","v":6.8,"lo":8.6,"hi":8.76},{"p":"W","id":"W2g","r":"RVapex","v":6.2,"lo":8.55,"hi":8.81},{"p":"W","id":"W2g","r":"RVapex","v":5.5,"lo":8.47,"hi":8.89},{"p":"W","id":"W2g","r":"RVapex","v":4.8,"lo":8.45,"hi":8.91},{"p":"W","id":"W2g","r":"RVapex","v":4.2,"lo":8.47,"hi":8.89},{"p":"W","id":"W2g","r":"RVapex","v":3.6,"lo":8.55,"hi":8.81},{"p":"W","id":"W2g","r":"RVapex","v":3.4,"lo":8.64,"hi":8.72},
{"p":"W","id":"W2b","r":"RVmid","v":5.8,"lo":9.12,"hi":9.2},{"p":"W","id":"W2b","r":"RVmid","v":5.4,"lo":9.04,"hi":9.28},{"p":"W","id":"W2b","r":"RVmid","v":4.8,"lo":9.04,"hi":9.28},{"p":"W","id":"W2b","r":"RVmid","v":4.4,"lo":9.06,"hi":9.26},{"p":"W","id":"W2b","r":"RVmid","v":4,"lo":8.99,"hi":9.33},{"p":"W","id":"W2b","r":"RVmid","v":3.6,"lo":8.93,"hi":9.39},{"p":"W","id":"W2b","r":"RVmid","v":3.2,"lo":8.99,"hi":9.33},{"p":"W","id":"W2b","r":"RVmid","v":3,"lo":9.12,"hi":9.2},
{"p":"W","id":"W2r","r":"RVbase","v":4.2,"lo":9.68,"hi":9.72},{"p":"W","id":"W2r","r":"RVbase","v":3.8,"lo":9.6,"hi":9.8},{"p":"W","id":"W2r","r":"RVbase","v":3.3,"lo":9.53,"hi":9.87},{"p":"W","id":"W2r","r":"RVbase","v":2.8,"lo":9.45,"hi":9.95},{"p":"W","id":"W2r","r":"RVbase","v":2.3,"lo":9.51,"hi":9.89},{"p":"W","id":"W2r","r":"RVbase","v":2,"lo":9.6,"hi":9.8},{"p":"W","id":"W2r","r":"RVbase","v":1.8,"lo":9.68,"hi":9.72}
],
"rug":[{"yr":0},{"yr":4.5},{"yr":9.1}]
},
"concat":[
{"width":33,"height":22,"mark":"point","data":{"values":[]}},
{"width":52,"height":0,"mark":"point","data":{"values":[]}},
{"vconcat":[{"width":563,"height":22,"view":{"fill":"#557b7b","stroke":null},"data":{"values":[{"label":"Longitudinal deformation"}]},"mark":{"type":"text","align":"left","baseline":"middle","dx":5,"color":"white","fontSize":16,"fontWeight":"bold","font":"DejaVu Sans"},"encoding":{"x":{"field":"label","type":"nominal","scale":{"type":"point","align":0,"padding":0},"axis":null},"text":{"field":"label","type":"nominal"}}}],"bounds":"flush","spacing":0},
{"width":40,"height":0,"mark":"point","data":{"values":[]}},
{"width":0,"height":0,"mark":"point","data":{"values":[]}},
{"width":40,"height":0,"mark":"point","data":{"values":[]}},
{"width":0,"height":0,"mark":"point","data":{"values":[]}},
{"width":62,"height":0,"mark":"point","data":{"values":[]}},
{"width":205,"height":22,"view":{"fill":"#557b7b","stroke":null},"data":{"values":[{"label":"RV tissue properties"}]},"mark":{"type":"text","align":"left","baseline":"middle","dx":5,"color":"white","fontSize":16,"fontWeight":"bold","font":"DejaVu Sans"},"encoding":{"x":{"field":"label","type":"nominal","scale":{"type":"point","align":0,"padding":0},"axis":null},"text":{"field":"label","type":"nominal"}}},

{"vconcat":[{"width":33,"height":26,"mark":"point","data":{"values":[]}},{"width":33,"height":218,"view":{"fill":"#557b7b","stroke":null},"data":{"values":[{"label":"Measured"}]},"mark":{"type":"text","angle":270,"color":"white","fontSize":16,"fontWeight":"bold","font":"DejaVu Sans"},"encoding":{"text":{"field":"label","type":"nominal"}}}],"bounds":"flush","spacing":0},
{"width":0,"height":29,"mark":"point","data":{"values":[]}},
{"width":0,"height":0,"mark":"point","data":{"values":[]}},
{"width":0,"height":0,"mark":"point","data":{"values":[]}},
{"width":0,"height":0,"mark":"point","data":{"values":[]}},
{"width":0,"height":0,"mark":"point","data":{"values":[]}},
{"width":0,"height":0,"mark":"point","data":{"values":[]}},
{"width":0,"height":0,"mark":"point","data":{"values":[]}},
{"width":0,"height":0,"mark":"point","data":{"values":[]}},

{"width":0,"height":0,"mark":"point","data":{"values":[]}},
{"width":0,"height":0,"mark":"point","data":{"values":[]}},
{"width":160,"height":207,"title":{"text":"Baseline","offset":5},"view":{"fill":"#231f20","stroke":"#9a9a9a"},"resolve":{"axis":{"x":"independent"}},"layer":[
 {"data":{"values":[{}]},"mark":{"type":"rule","color":"#aaaaaa","strokeDash":[6,3],"strokeWidth":1.5},"encoding":{"y":{"datum":0,"type":"quantitative","scale":{"domain":[-41.6,12.35],"nice":false,"zero":false},"axis":{"values":[-40,-30,-20,-10,0,10],"title":"strain[%]","titleFontSize":13.5}}}},
 {"data":{"name":"meas"},"transform":[{"filter":"datum.p==='M1'"}],"mark":{"type":"line","strokeWidth":2,"interpolate":"monotone"},"encoding":{"x":{"field":"t","type":"quantitative","scale":{"domain":[0,1140],"nice":false,"zero":false},"axis":{"orient":"bottom","values":[0,250,500,750,1000],"labels":false,"title":null}},"y":{"field":"v","type":"quantitative","scale":{"domain":[-41.6,12.35],"nice":false,"zero":false},"axis":{"values":[-40,-30,-20,-10,0,10],"title":"strain[%]","titleFontSize":13.5}},"color":{"field":"r","type":"nominal","scale":{"domain":["RVbase","RVmid","RVapex"],"range":["#ee3f2d","#1f77b4","#5ab552"]},"legend":null}}},
 {"data":{"values":[{"t":0}]},"mark":{"type":"point","opacity":0},"encoding":{"x":{"field":"t","type":"quantitative","scale":{"domain":[0,1140],"nice":false,"zero":false},"axis":{"orient":"top","values":[0,250,500,750,1000],"labels":false,"title":null}}}}
]},
{"width":0,"height":0,"mark":"point","data":{"values":[]}},
{"width":160,"height":207,"title":{"text":"After 4.5 years","offset":5},"view":{"fill":"#231f20","stroke":"#9a9a9a"},"resolve":{"axis":{"x":"independent"}},"layer":[
 {"data":{"values":[{}]},"mark":{"type":"rule","color":"#aaaaaa","strokeDash":[6,3],"strokeWidth":1.5},"encoding":{"y":{"datum":0,"type":"quantitative","scale":{"domain":[-41.6,12.35],"nice":false,"zero":false},"axis":{"values":[-40,-30,-20,-10,0,10],"title":null}}}},
 {"data":{"name":"meas"},"transform":[{"filter":"datum.p==='M2'"}],"mark":{"type":"line","strokeWidth":2,"interpolate":"monotone"},"encoding":{"x":{"field":"t","type":"quantitative","scale":{"domain":[0,1076],"nice":false,"zero":false},"axis":{"orient":"bottom","values":[0,250,500,750,1000],"labels":false,"title":null}},"y":{"field":"v","type":"quantitative","scale":{"domain":[-41.6,12.35],"nice":false,"zero":false},"axis":{"values":[-40,-30,-20,-10,0,10],"title":null}},"color":{"field":"r","type":"nominal","scale":{"domain":["RVbase","RVmid","RVapex"],"range":["#ee3f2d","#1f77b4","#5ab552"]},"legend":null}}},
 {"data":{"values":[{"t":0}]},"mark":{"type":"point","opacity":0},"encoding":{"x":{"field":"t","type":"quantitative","scale":{"domain":[0,1076],"nice":false,"zero":false},"axis":{"orient":"top","values":[0,250,500,750,1000],"labels":false,"title":null}}}}
]},
{"width":0,"height":0,"mark":"point","data":{"values":[]}},
{"width":160,"height":207,"title":{"text":"After 9.1 years","offset":5},"view":{"fill":"#231f20","stroke":"#9a9a9a"},"resolve":{"axis":{"x":"independent"}},"layer":[
 {"data":{"values":[{}]},"mark":{"type":"rule","color":"#aaaaaa","strokeDash":[6,3],"strokeWidth":1.5},"encoding":{"y":{"datum":0,"type":"quantitative","scale":{"domain":[-41.6,12.35],"nice":false,"zero":false},"axis":{"values":[-40,-30,-20,-10,0,10],"title":null}}}},
 {"data":{"name":"meas"},"transform":[{"filter":"datum.p==='M3'"}],"mark":{"type":"line","strokeWidth":2,"interpolate":"monotone"},"encoding":{"x":{"field":"t","type":"quantitative","scale":{"domain":[0,1000],"nice":false,"zero":false},"axis":{"orient":"bottom","values":[0,250,500,750,1000],"labels":false,"title":null}},"y":{"field":"v","type":"quantitative","scale":{"domain":[-41.6,12.35],"nice":false,"zero":false},"axis":{"values":[-40,-30,-20,-10,0,10],"title":null}},"color":{"field":"r","type":"nominal","scale":{"domain":["RVbase","RVmid","RVapex"],"range":["#ee3f2d","#1f77b4","#5ab552"]},"legend":{"orient":"bottom-right","title":null,"symbolType":"M-1.1,0H2.5","symbolSize":256,"symbolStrokeWidth":2.5,"labelFontSize":14,"fillColor":"white","strokeColor":"#bbbbbb","padding":3,"offset":2,"rowPadding":0,"labelOffset":12,"cornerRadius":2}}}},
 {"data":{"values":[{"t":0}]},"mark":{"type":"point","opacity":0},"encoding":{"x":{"field":"t","type":"quantitative","scale":{"domain":[0,1000],"nice":false,"zero":false},"axis":{"orient":"top","values":[0,250,500,750,1000],"labels":false,"title":null}}}}
]},
{"width":0,"height":0,"mark":"point","data":{"values":[]}},
{"vconcat":[
{"width":204,"height":83,"view":{"stroke":"#222222"},"layer":[
 {"data":{"name":"vio"},"transform":[{"filter":"datum.p==='C'"}],"mark":{"type":"area","orient":"horizontal","interpolate":"monotone","fillOpacity":0.55,"strokeWidth":1},"encoding":{"y":{"field":"v","type":"quantitative","scale":{"domain":[52,749],"nice":false,"zero":false},"axis":{"values":[250,500],"title":"Contractility [kPa/s]","titleFontSize":12}},"x":{"field":"lo","type":"quantitative","scale":{"domain":[-1.35,10.45],"nice":false,"zero":false},"axis":{"values":[0,2.5,5,7.5,10],"format":".1f","title":"Time [year]"}},"x2":{"field":"hi"},"detail":{"field":"id","type":"nominal"},"fill":{"field":"r","type":"nominal","scale":{"domain":["RVbase","RVmid","RVapex"],"range":["#ee3f2d","#1f77b4","#5ab552"]},"legend":null},"stroke":{"field":"r","type":"nominal","scale":{"domain":["RVbase","RVmid","RVapex"],"range":["#ee3f2d","#1f77b4","#5ab552"]},"legend":null}}},
 {"data":{"name":"rug"},"mark":{"type":"tick","orient":"vertical","thickness":3,"size":7,"color":"#111111","opacity":1},"encoding":{"x":{"field":"yr","type":"quantitative","axis":{"values":[0,2.5,5,7.5,10],"format":".1f","title":"Time [year]"}},"y":{"datum":77,"type":"quantitative","axis":{"values":[250,500],"title":"Contractility [kPa/s]","titleFontSize":12}}}}
]},
{"width":204,"height":82,"view":{"stroke":"#222222"},"layer":[
 {"data":{"name":"vio"},"transform":[{"filter":"datum.p==='A'"}],"mark":{"type":"area","orient":"horizontal","interpolate":"monotone","fillOpacity":0.55,"strokeWidth":1},"encoding":{"y":{"field":"v","type":"quantitative","scale":{"domain":[-58.4,56],"nice":false,"zero":false},"axis":{"values":[-50,0,50],"title":"Activation Delay [ms]","titleFontSize":12}},"x":{"field":"lo","type":"quantitative","scale":{"domain":[-1.35,10.45],"nice":false,"zero":false},"axis":{"values":[0,2.5,5,7.5,10],"format":".1f","title":"Time [year]"}},"x2":{"field":"hi"},"detail":{"field":"id","type":"nominal"},"fill":{"field":"r","type":"nominal","scale":{"domain":["RVbase","RVmid","RVapex"],"range":["#ee3f2d","#1f77b4","#5ab552"]},"legend":null},"stroke":{"field":"r","type":"nominal","scale":{"domain":["RVbase","RVmid","RVapex"],"range":["#ee3f2d","#1f77b4","#5ab552"]},"legend":null}}},
 {"data":{"name":"rug"},"mark":{"type":"tick","orient":"vertical","thickness":3,"size":7,"color":"#111111","opacity":1},"encoding":{"x":{"field":"yr","type":"quantitative","axis":{"values":[0,2.5,5,7.5,10],"format":".1f","title":"Time [year]"}},"y":{"datum":-54.2,"type":"quantitative","axis":{"values":[-50,0,50],"title":"Activation Delay [ms]","titleFontSize":12}}}}
]}
],"bounds":"flush","spacing":42},

{"vconcat":[{"width":33,"height":50,"mark":"point","data":{"values":[]}},{"width":33,"height":220,"view":{"fill":"#557b7b","stroke":null},"data":{"values":[{"label":"Modelled"}]},"mark":{"type":"text","angle":270,"color":"white","fontSize":16,"fontWeight":"bold","font":"DejaVu Sans"},"encoding":{"text":{"field":"label","type":"nominal"}}}],"bounds":"flush","spacing":0},
{"width":0,"height":41,"mark":"point","data":{"values":[]}},
{"width":0,"height":0,"mark":"point","data":{"values":[]}},
{"width":0,"height":0,"mark":"point","data":{"values":[]}},
{"width":0,"height":0,"mark":"point","data":{"values":[]}},
{"width":0,"height":0,"mark":"point","data":{"values":[]}},
{"width":0,"height":0,"mark":"point","data":{"values":[]}},
{"width":0,"height":0,"mark":"point","data":{"values":[]}},
{"width":0,"height":0,"mark":"point","data":{"values":[]}},

{"width":0,"height":0,"mark":"point","data":{"values":[]}},
{"width":0,"height":0,"mark":"point","data":{"values":[]}},
{"width":160,"height":206,"view":{"stroke":"#888888"},"resolve":{"axis":{"x":"independent"}},"layer":[
 {"data":{"name":"band"},"transform":[{"filter":"datum.p==='S1'"}],"mark":{"type":"area","fillOpacity":0.25,"strokeOpacity":0.45,"strokeWidth":0.8,"interpolate":"monotone"},"encoding":{"x":{"field":"t","type":"quantitative","scale":{"domain":[0,1140],"nice":false,"zero":false},"axis":null},"y":{"field":"lo","type":"quantitative","scale":{"domain":[-42,12],"nice":false,"zero":false},"axis":{"values":[-40,-30,-20,-10,0,10],"title":"strain[%]","titleFontSize":13.5}},"y2":{"field":"hi"},"fill":{"field":"r","type":"nominal","scale":{"domain":["RVbase","RVmid","RVapex"],"range":["#ee3f2d","#1f77b4","#5ab552"]},"legend":null},"stroke":{"field":"r","type":"nominal","scale":{"domain":["RVbase","RVmid","RVapex"],"range":["#ee3f2d","#1f77b4","#5ab552"]},"legend":null}}},
 {"data":{"values":[{}]},"mark":{"type":"rule","color":"#888888","strokeDash":[6,4],"strokeWidth":1.5},"encoding":{"y":{"datum":0,"type":"quantitative","scale":{"domain":[-42,12],"nice":false,"zero":false},"axis":{"values":[-40,-30,-20,-10,0,10],"title":"strain[%]","titleFontSize":13.5}}}},
 {"data":{"name":"mod"},"transform":[{"filter":"datum.p==='S1'"}],"mark":{"type":"line","strokeWidth":3,"interpolate":"monotone"},"encoding":{"x":{"field":"t","type":"quantitative","scale":{"domain":[0,1140],"nice":false,"zero":false},"axis":{"orient":"bottom","values":[0,250,500,750,1000],"format":"d","title":"Time [ms]"}},"y":{"field":"v","type":"quantitative","scale":{"domain":[-42,12],"nice":false,"zero":false},"axis":{"values":[-40,-30,-20,-10,0,10],"title":"strain[%]","titleFontSize":13.5}},"stroke":{"field":"r","type":"nominal","scale":{"domain":["RVbase","RVmid","RVapex"],"range":["#ee3f2d","#1f77b4","#5ab552"]},"legend":null}}},
 {"data":{"values":[{"t":0}]},"mark":{"type":"point","opacity":0},"encoding":{"x":{"field":"t","type":"quantitative","scale":{"domain":[0,1140],"nice":false,"zero":false},"axis":{"orient":"top","values":[0,250,500,750,1000],"labels":false,"title":null}}}}
]},
{"width":0,"height":0,"mark":"point","data":{"values":[]}},
{"width":160,"height":206,"view":{"stroke":"#888888"},"resolve":{"axis":{"x":"independent"}},"layer":[
 {"data":{"name":"band"},"transform":[{"filter":"datum.p==='S2'"}],"mark":{"type":"area","fillOpacity":0.25,"strokeOpacity":0.45,"strokeWidth":0.8,"interpolate":"monotone"},"encoding":{"x":{"field":"t","type":"quantitative","scale":{"domain":[0,1076],"nice":false,"zero":false},"axis":null},"y":{"field":"lo","type":"quantitative","scale":{"domain":[-42,12],"nice":false,"zero":false},"axis":{"values":[-40,-30,-20,-10,0,10],"title":null}},"y2":{"field":"hi"},"fill":{"field":"r","type":"nominal","scale":{"domain":["RVbase","RVmid","RVapex"],"range":["#ee3f2d","#1f77b4","#5ab552"]},"legend":null},"stroke":{"field":"r","type":"nominal","scale":{"domain":["RVbase","RVmid","RVapex"],"range":["#ee3f2d","#1f77b4","#5ab552"]},"legend":null}}},
 {"data":{"values":[{}]},"mark":{"type":"rule","color":"#888888","strokeDash":[6,4],"strokeWidth":1.5},"encoding":{"y":{"datum":0,"type":"quantitative","scale":{"domain":[-42,12],"nice":false,"zero":false},"axis":{"values":[-40,-30,-20,-10,0,10],"title":null}}}},
 {"data":{"name":"mod"},"transform":[{"filter":"datum.p==='S2'"}],"mark":{"type":"line","strokeWidth":3,"interpolate":"monotone"},"encoding":{"x":{"field":"t","type":"quantitative","scale":{"domain":[0,1076],"nice":false,"zero":false},"axis":{"orient":"bottom","values":[0,250,500,750,1000],"format":"d","title":"Time [ms]"}},"y":{"field":"v","type":"quantitative","scale":{"domain":[-42,12],"nice":false,"zero":false},"axis":{"values":[-40,-30,-20,-10,0,10],"title":null}},"stroke":{"field":"r","type":"nominal","scale":{"domain":["RVbase","RVmid","RVapex"],"range":["#ee3f2d","#1f77b4","#5ab552"]},"legend":null}}},
 {"data":{"values":[{"t":0}]},"mark":{"type":"point","opacity":0},"encoding":{"x":{"field":"t","type":"quantitative","scale":{"domain":[0,1076],"nice":false,"zero":false},"axis":{"orient":"top","values":[0,250,500,750,1000],"labels":false,"title":null}}}}
]},
{"width":0,"height":0,"mark":"point","data":{"values":[]}},
{"width":160,"height":206,"view":{"stroke":"#888888"},"resolve":{"axis":{"x":"independent"}},"layer":[
 {"data":{"name":"band"},"transform":[{"filter":"datum.p==='S3'"}],"mark":{"type":"area","fillOpacity":0.25,"strokeOpacity":0.45,"strokeWidth":0.8,"interpolate":"monotone"},"encoding":{"x":{"field":"t","type":"quantitative","scale":{"domain":[0,1000],"nice":false,"zero":false},"axis":null},"y":{"field":"lo","type":"quantitative","scale":{"domain":[-42,12],"nice":false,"zero":false},"axis":{"values":[-40,-30,-20,-10,0,10],"title":null}},"y2":{"field":"hi"},"fill":{"field":"r","type":"nominal","scale":{"domain":["RVbase","RVmid","RVapex"],"range":["#ee3f2d","#1f77b4","#5ab552"]},"legend":{"orient":"bottom-right","title":null,"symbolType":"M-1,-0.75H2.2V0.75H-1Z M-1,0H2.2","symbolSize":256,"labelFontSize":14,"fillColor":"white","strokeColor":"#bbbbbb","padding":3,"offset":2,"rowPadding":1,"labelOffset":12,"cornerRadius":2,"encode":{"symbols":{"update":{"fillOpacity":{"value":0.3},"strokeWidth":{"value":1.6}}}}}},"stroke":{"field":"r","type":"nominal","scale":{"domain":["RVbase","RVmid","RVapex"],"range":["#ee3f2d","#1f77b4","#5ab552"]},"legend":{"orient":"bottom-right","title":null,"symbolType":"M-1,-0.75H2.2V0.75H-1Z M-1,0H2.2","symbolSize":256,"labelFontSize":14,"fillColor":"white","strokeColor":"#bbbbbb","padding":3,"offset":2,"rowPadding":1,"labelOffset":12,"cornerRadius":2,"encode":{"symbols":{"update":{"fillOpacity":{"value":0.3},"strokeWidth":{"value":1.6}}}}}}}},
 {"data":{"values":[{}]},"mark":{"type":"rule","color":"#888888","strokeDash":[6,4],"strokeWidth":1.5},"encoding":{"y":{"datum":0,"type":"quantitative","scale":{"domain":[-42,12],"nice":false,"zero":false},"axis":{"values":[-40,-30,-20,-10,0,10],"title":null}}}},
 {"data":{"name":"mod"},"transform":[{"filter":"datum.p==='S3'"}],"mark":{"type":"line","strokeWidth":3,"interpolate":"monotone"},"encoding":{"x":{"field":"t","type":"quantitative","scale":{"domain":[0,1000],"nice":false,"zero":false},"axis":{"orient":"bottom","values":[0,250,500,750,1000],"format":"d","title":"Time [ms]"}},"y":{"field":"v","type":"quantitative","scale":{"domain":[-42,12],"nice":false,"zero":false},"axis":{"values":[-40,-30,-20,-10,0,10],"title":null}},"stroke":{"field":"r","type":"nominal","scale":{"domain":["RVbase","RVmid","RVapex"],"range":["#ee3f2d","#1f77b4","#5ab552"]},"legend":{"orient":"bottom-right","title":null,"symbolType":"M-1,-0.75H2.2V0.75H-1Z M-1,0H2.2","symbolSize":256,"labelFontSize":14,"fillColor":"white","strokeColor":"#bbbbbb","padding":3,"offset":2,"rowPadding":1,"labelOffset":12,"cornerRadius":2,"encode":{"symbols":{"update":{"fillOpacity":{"value":0.3},"strokeWidth":{"value":1.6}}}}}}}},
 {"data":{"values":[{"t":0}]},"mark":{"type":"point","opacity":0},"encoding":{"x":{"field":"t","type":"quantitative","scale":{"domain":[0,1000],"nice":false,"zero":false},"axis":{"orient":"top","values":[0,250,500,750,1000],"labels":false,"title":null}}}}
]},
{"width":0,"height":0,"mark":"point","data":{"values":[]}},
{"vconcat":[
{"width":204,"height":83,"view":{"stroke":"#222222"},"layer":[
 {"data":{"name":"vio"},"transform":[{"filter":"datum.p==='P'"}],"mark":{"type":"area","orient":"horizontal","interpolate":"monotone","fillOpacity":0.55,"strokeWidth":1},"encoding":{"y":{"field":"v","type":"quantitative","scale":{"domain":[-0.16,0.81],"nice":false,"zero":false},"axis":{"values":[0,0.5],"format":".1f","title":"Compliance [1/kPa]","titleFontSize":12}},"x":{"field":"lo","type":"quantitative","scale":{"domain":[-1.35,10.45],"nice":false,"zero":false},"axis":{"values":[0,2.5,5,7.5,10],"format":".1f","title":"Time [year]"}},"x2":{"field":"hi"},"detail":{"field":"id","type":"nominal"},"fill":{"field":"r","type":"nominal","scale":{"domain":["RVbase","RVmid","RVapex"],"range":["#ee3f2d","#1f77b4","#5ab552"]},"legend":null},"stroke":{"field":"r","type":"nominal","scale":{"domain":["RVbase","RVmid","RVapex"],"range":["#ee3f2d","#1f77b4","#5ab552"]},"legend":null}}},
 {"data":{"name":"rug"},"mark":{"type":"tick","orient":"vertical","thickness":3,"size":7,"color":"#111111","opacity":1},"encoding":{"x":{"field":"yr","type":"quantitative","axis":{"values":[0,2.5,5,7.5,10],"format":".1f","title":"Time [year]"}},"y":{"datum":-0.125,"type":"quantitative","axis":{"values":[0,0.5],"format":".1f","title":"Compliance [1/kPa]","titleFontSize":12}}}}
]},
{"width":204,"height":81,"view":{"stroke":"#222222"},"layer":[
 {"data":{"name":"vio"},"transform":[{"filter":"datum.p==='W'"}],"mark":{"type":"area","orient":"horizontal","interpolate":"monotone","fillOpacity":0.55,"strokeWidth":1},"encoding":{"y":{"field":"v","type":"quantitative","scale":{"domain":[0.76,8.31],"nice":false,"zero":false},"axis":{"values":[2.5,5,7.5],"format":".1f","title":"Work density [kPa]","titleFontSize":12}},"x":{"field":"lo","type":"quantitative","scale":{"domain":[-1.35,10.45],"nice":false,"zero":false},"axis":{"values":[0,2.5,5,7.5,10],"format":".1f","title":"Time [year]"}},"x2":{"field":"hi"},"detail":{"field":"id","type":"nominal"},"fill":{"field":"r","type":"nominal","scale":{"domain":["RVbase","RVmid","RVapex"],"range":["#ee3f2d","#1f77b4","#5ab552"]},"legend":null},"stroke":{"field":"r","type":"nominal","scale":{"domain":["RVbase","RVmid","RVapex"],"range":["#ee3f2d","#1f77b4","#5ab552"]},"legend":null}}},
 {"data":{"name":"rug"},"mark":{"type":"tick","orient":"vertical","thickness":3,"size":7,"color":"#111111","opacity":1},"encoding":{"x":{"field":"yr","type":"quantitative","axis":{"values":[0,2.5,5,7.5,10],"format":".1f","title":"Time [year]"}},"y":{"datum":1.04,"type":"quantitative","axis":{"values":[2.5,5,7.5],"format":".1f","title":"Work density [kPa]","titleFontSize":12}}}}
]}
],"bounds":"flush","spacing":42}
]
}
